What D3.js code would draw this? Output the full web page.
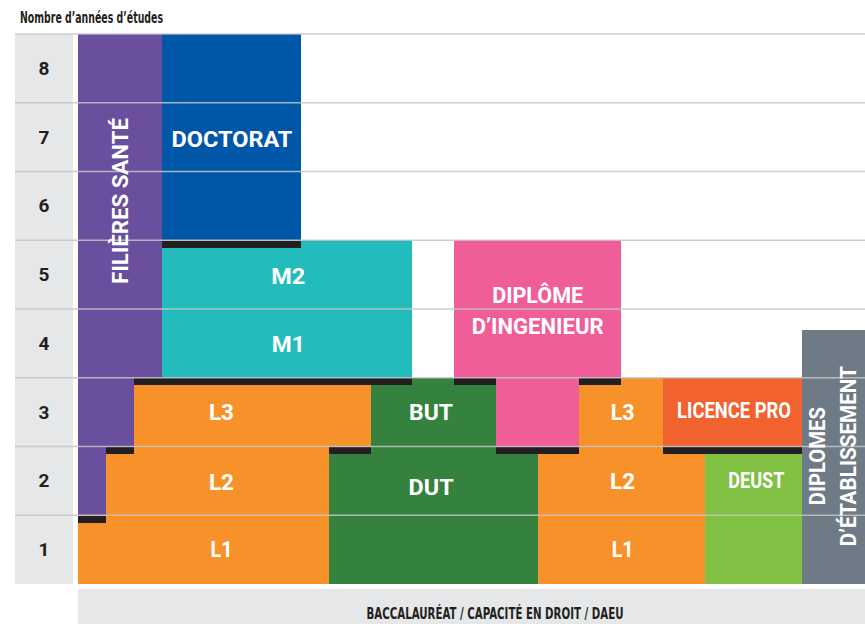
<!DOCTYPE html>
<html><head><meta charset="utf-8">
<script src="https://cdn.jsdelivr.net/npm/d3@7"></script>
<style>
html,body{margin:0;padding:0;background:#fff;}
svg{display:block;}
</style></head>
<body>
<svg id="chart" width="865" height="624"></svg>
<script>
// ---- data ----
const title = "Nombre d’années d’études";
const baseLabel = "BACCALAURÉAT / CAPACITÉ EN DROIT / DAEU";
const levels = [1,2,3,4,5,6,7,8];

// blocks: [x0, x1, y0, y1, colorKey]  (x in column units, y in years of study)
const blocks = [
  [0, 2, 1, 8, "sante"], [2, 4, 2, 8, "sante"], [4, 6, 3, 8, "sante"],
  [0, 18, 0, 1, "licence"], [2, 18, 1, 2, "licence"], [4, 21, 2, 3, "licence"],
  [18, 33, 0, 2, "dut"], [21, 30, 2, 3, "dut"],
  [6, 24, 3, 5, "master"],
  [6, 16, 5, 8, "doctorat"],
  [27, 39, 3, 5, "ingenieur"], [30, 36, 2, 3, "ingenieur"],
  [33, 45, 0, 2, "licence"], [36, 42, 2, 3, "licence"],
  [42, 52, 2, 3, "licpro"],
  [45, 52, 0, 2, "deust"],
  [52, 56.5, 0, 3.7, "etab"]
];
// black separators: [level, x0, x1]
const separators = [
  [1, 0, 2],
  [2, 2, 4], [2, 18, 21], [2, 30, 36], [2, 42, 52],
  [3, 4, 24], [3, 27, 30], [3, 36, 39],
  [5, 6, 16]
];
// labels: [text, x, y, textLength or null]
const labels = [
  ["DOCTORAT", 11.05, 6.46, 121],
  ["M2", 15.1, 4.48, 34],
  ["M1", 15.1, 3.48, 33],
  ["L3", 10.3, 2.49, 25],
  ["L2", 10.3, 1.48, 25],
  ["L1", 10.3, 0.5, 22],
  ["BUT", 25.35, 2.49, 44],
  ["DUT", 25.35, 1.41, 45],
  ["DIPLÔME", 33, 4.2, 91],
  ["D’INGENIEUR", 33, 3.75, 132],
  ["L3", 39.1, 2.49, 24],
  ["L2", 39.1, 1.49, 25],
  ["L1", 39.1, 0.5, 22],
  ["LICENCE PRO", 47.1, 2.52, 114],
  ["DEUST", 48.7, 1.5, 56]
];
// rotated labels: [text, x, y, textLength or null]
const vlabels = [
  ["FILIÈRES SANTÉ", 3.05, 5.57, 166],
  ["DIPLOMES", 53.1, 1.86, 98],
  ["D’ÉTABLISSEMENT", 55.3, 1.86, 180]
];
const colors = {
  sante: "#6a4f9e", licence: "#f7922b", dut: "#35823f", master: "#21bcbb",
  doctorat: "#0057a8", ingenieur: "#ef5e98", licpro: "#f2622e",
  deust: "#80c042", etab: "#6e7b86"
};

// ---- drawing ----
const svg = d3.select("#chart");
const x = d3.scaleLinear().domain([0, 56.5]).range([78, 865]);
const y = d3.scaleLinear().domain([0, 8]).range([584, 34]);
const band = d3.scaleBand().domain(levels.slice().reverse()).range([34, 584]);

// title
svg.append("text").attr("x", 20).attr("y", 23)
  .attr("font-family", "'Liberation Sans Narrow','DejaVu Sans Condensed',sans-serif")
  .attr("font-weight", 700).attr("font-size", 15).attr("fill", "#231f20")
  .attr("textLength", 143).attr("lengthAdjust", "spacingAndGlyphs")
  .text(title);

// left axis column
svg.append("rect").attr("x", 15).attr("y", y(8)).attr("width", 58).attr("height", y(0) - y(8)).attr("fill", "#e6e7e9");
svg.append("g").selectAll("text").data(levels).join("text")
  .attr("x", 44).attr("y", d => band(d) + band.bandwidth() / 2)
  .attr("text-anchor", "middle").attr("dominant-baseline", "central")
  .attr("font-family", "Roboto, sans-serif").attr("font-weight", 700).attr("font-size", 19)
  .attr("fill", "#231f20").text(d => d);

// bottom base band
svg.append("rect").attr("x", x(0)).attr("y", 589).attr("width", x(56.5) - x(0)).attr("height", 40).attr("fill", "#e6e7e9");
svg.append("text").attr("x", 495).attr("y", 619).attr("text-anchor", "middle")
  .attr("font-family", "'Liberation Sans Narrow','DejaVu Sans Condensed',sans-serif")
  .attr("font-weight", 700).attr("font-size", 15).attr("fill", "#231f20")
  .attr("textLength", 257).attr("lengthAdjust", "spacingAndGlyphs")
  .text(baseLabel);

// blocks
svg.append("g").selectAll("rect").data(blocks).join("rect")
  .attr("x", d => x(d[0])).attr("y", d => y(d[3]))
  .attr("width", d => x(d[1]) - x(d[0])).attr("height", d => y(d[2]) - y(d[3]))
  .attr("fill", d => colors[d[4]]).attr("shape-rendering", "crispEdges");

// black separators
svg.append("g").selectAll("rect").data(separators).join("rect")
  .attr("x", d => x(d[1])).attr("y", d => y(d[0]) + 0.5)
  .attr("width", d => x(d[2]) - x(d[1])).attr("height", 7)
  .attr("fill", "#231f20").attr("shape-rendering", "crispEdges");

// grid lines
svg.append("g").selectAll("line").data(levels).join("line")
  .attr("x1", 15).attr("x2", 865)
  .attr("y1", d => y(d)).attr("y2", d => y(d))
  .attr("stroke", "#c4c4c4").attr("stroke-opacity", 0.85).attr("stroke-width", 1.3);

// labels
const lab = svg.append("g").attr("font-family", "Roboto, sans-serif").attr("font-weight", 700)
  .attr("font-size", 22).attr("fill", "#fff");
lab.selectAll("text").data(labels).join("text")
  .attr("x", d => x(d[1])).attr("y", d => y(d[2]))
  .attr("text-anchor", "middle").attr("dominant-baseline", "central")
  .each(function(d){ if (d[3]) d3.select(this).attr("textLength", d[3]).attr("lengthAdjust", "spacingAndGlyphs"); })
  .text(d => d[0]);

lab.selectAll("text.v").data(vlabels).join("text").attr("class", "v")
  .attr("transform", d => `translate(${x(d[1])},${y(d[2])}) rotate(-90)`)
  .attr("text-anchor", "middle").attr("dominant-baseline", "central")
  .each(function(d){ if (d[3]) d3.select(this).attr("textLength", d[3]).attr("lengthAdjust", "spacingAndGlyphs"); })
  .text(d => d[0]);
</script>
</body></html>
